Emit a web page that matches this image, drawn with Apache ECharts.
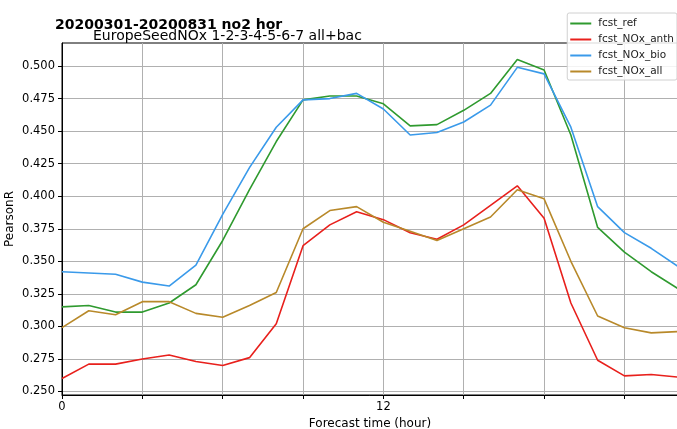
<!DOCTYPE html>
<html>
<head>
<meta charset="utf-8">
<script src="https://cdn.jsdelivr.net/npm/echarts@6/dist/echarts.min.js"></script>
<style>
  html, body { margin: 0; padding: 0; background: #fff; }
  #chart { width: 677px; height: 429px; }
</style>
</head>
<body>
<div id="chart"></div>
<script>
  // forecast hours 0..23
  var hours = [0,1,2,3,4,5,6,7,8,9,10,11,12,13,14,15,16,17,18,19,20,21,22,23];

  var fcstRef = [0.315,0.316,0.311,0.311,0.318,0.332,0.366,0.405,0.442,0.474,0.477,0.477,
                 0.471,0.454,0.455,0.466,0.479,0.505,0.497,0.447,0.376,0.357,0.342,0.329];
  var fcstAnth = [0.260,0.271,0.271,0.275,0.278,0.273,0.270,0.276,0.302,0.362,0.378,0.388,
                  0.382,0.372,0.367,0.378,0.393,0.408,0.383,0.318,0.274,0.262,0.263,0.261];
  var fcstBio = [0.342,0.341,0.340,0.334,0.331,0.347,0.386,0.422,0.453,0.474,0.475,0.479,
                 0.467,0.447,0.449,0.457,0.470,0.499,0.494,0.453,0.392,0.372,0.360,0.346];
  var fcstAll = [0.299,0.312,0.309,0.319,0.319,0.310,0.307,0.316,0.326,0.375,0.389,0.392,
                 0.380,0.373,0.366,0.375,0.384,0.405,0.398,0.350,0.308,0.299,0.295,0.296];

  var yTicks = [0.250,0.275,0.300,0.325,0.350,0.375,0.400,0.425,0.450,0.475,0.500];
  var xLabelled = [0, 12];

  var font = 'DejaVu Sans';

  function pairs(vals) {
    return hours.map(function (h, i) { return [h, vals[i]]; });
  }

  function line(name, vals, color) {
    return {
      name: name,
      type: 'line',
      data: pairs(vals),
      symbol: 'none',
      lineStyle: { width: 1.6, color: color },
      itemStyle: { color: color },
      animation: false
    };
  }

  var chart = echarts.init(document.getElementById('chart'));
  chart.setOption({
    animation: false,
    title: [
      {
        text: '20200301-20200831 no2 hor',
        left: 50, top: 13,
        textStyle: { fontFamily: font, fontSize: 14, fontWeight: 'bold', color: '#000' }
      },
      {
        text: 'EuropeSeedNOx 1-2-3-4-5-6-7 all+bac',
        left: 88, top: 24,
        textStyle: { fontFamily: font, fontSize: 14, fontWeight: 'normal', color: '#000' }
      }
    ],
    legend: {
      orient: 'vertical',
      right: 0, top: 13,
      padding: [5, 3, 3, 3],
      backgroundColor: 'rgba(255,255,255,0.85)',
      borderColor: '#d0d0d0', borderWidth: 1, borderRadius: 2,
      icon: 'rect', itemWidth: 21, itemHeight: 2, itemGap: 5,
      textStyle: { fontFamily: font, fontSize: 10.5, color: '#222', padding: [0, 0, 0, 2] },
      data: ['fcst_ref', 'fcst_NOx_anth', 'fcst_NOx_bio', 'fcst_NOx_all']
    },
    grid: {
      left: 62, right: -1, top: 43, bottom: 34,
      outerBoundsMode: 'none',
      show: true, borderColor: '#000', borderWidth: 1
    },
    xAxis: {
      type: 'value',
      min: 0, max: 23, interval: 3,
      name: 'Forecast time (hour)',
      nameLocation: 'middle', nameGap: 21,
      nameTextStyle: { fontFamily: font, fontSize: 12, color: '#000' },
      axisLine: { lineStyle: { color: '#000' } },
      axisTick: { show: true, length: 4, lineStyle: { color: '#000' } },
      axisLabel: {
        fontFamily: font, fontSize: 11.5, color: '#000', margin: 6,
        formatter: function (v) { return xLabelled.indexOf(v) >= 0 ? String(v) : ''; }
      },
      splitLine: { show: true, lineStyle: { color: '#b0b0b0', width: 1 } }
    },
    yAxis: {
      type: 'value',
      min: 0.2473, max: 0.5177,
      name: 'PearsonR',
      nameLocation: 'middle', nameGap: 52, nameRotate: 90,
      nameMoveOverlap: false,
      nameTextStyle: { fontFamily: font, fontSize: 12, color: '#000', verticalAlign: 'middle' },
      axisLine: { show: true, lineStyle: { color: '#000' } },
      axisTick: { show: true, length: 4, lineStyle: { color: '#000' }, customValues: yTicks },
      axisLabel: {
        fontFamily: font, fontSize: 11.5, color: '#000', margin: 7,
        customValues: yTicks,
        formatter: function (v) { return v.toFixed(3); }
      },
      splitLine: { show: true, lineStyle: { color: '#b0b0b0', width: 1 } }
    },
    series: [
      line('fcst_ref', fcstRef, '#2f9a2f'),
      line('fcst_NOx_anth', fcstAnth, '#e8201c'),
      line('fcst_NOx_bio', fcstBio, '#3a9aea'),
      line('fcst_NOx_all', fcstAll, '#b8892a')
    ]
  });
</script>
</body>
</html>
